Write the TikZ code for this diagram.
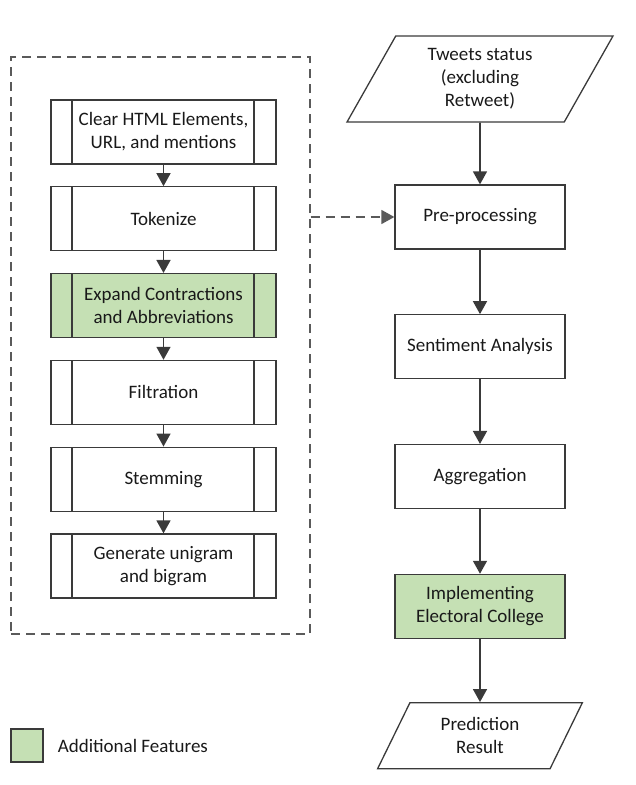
\documentclass[tikz,border=0pt]{standalone}
\usepackage{fontspec}
\setmainfont{Carlito}
\usetikzlibrary{positioning,shapes.geometric,arrows.meta}
\definecolor{addgreen}{HTML}{C5E0B4}
\definecolor{boxline}{HTML}{3A3A3A}
\definecolor{grpline}{HTML}{5A5A5A}
\tikzset{
	base/.style={draw=boxline, line width=1.3pt, align=center, text=black!90,
		font=\fontsize{19}{23}\selectfont, inner sep=2pt},
	proc/.style={base, minimum width=170pt, minimum height=64pt},
	subproc/.style={base, minimum width=225pt, minimum height=64pt,
		path picture={\draw[boxline, line width=1.3pt]
			([xshift=21pt]path picture bounding box.north west) -- ([xshift=21pt]path picture bounding box.south west)
			([xshift=-22pt]path picture bounding box.north east) -- ([xshift=-22pt]path picture bounding box.south east);}},
	io/.style={base, trapezium, trapezium left angle=63.5, trapezium right angle=116.5,
		trapezium stretches=true, inner sep=0pt},
	addfeat/.style={fill=addgreen},
	grp/.style={draw=grpline, line width=1.2pt, dash pattern=on 9pt off 6pt, inner sep=0pt},
	flow/.style={draw=boxline, line width=1.6pt, -{Triangle[width=14pt,length=13pt]}},
}

\begin{document}
\begin{tikzpicture}[x=1pt, y=-1pt, node distance=21.5pt]
	\useasboundingbox (0,0) rectangle (635,785);
	% pre-processing steps
	\node[grp, minimum width=299pt, minimum height=577pt] (prepgroup) at (160.5,345.5) {};
	\node[subproc] (clear) at (163.5,132) {Clear HTML Elements,\\URL, and mentions};
	\node[subproc, below=of clear] (token) {Tokenize};
	\node[subproc, addfeat, below=of token] (expand) {Expand Contractions\\and Abbreviations};
	\node[subproc, below=of expand] (filter) {Filtration};
	\node[subproc, below=of filter] (stem) {Stemming};
	\node[subproc, below=of stem] (ngram) {Generate unigram\\and bigram};
	%
	\node[io, minimum width=266pt, minimum height=86pt] (tweets) at (480,79) {Tweets status\\(excluding\\Retweet)};
	\node[proc] (pre) at (480,217) {Pre-processing};
	\node[proc, below=64.5pt of pre] (senti) {Sentiment Analysis};
	\node[proc, below=64.5pt of senti] (aggr) {Aggregation};
	\node[proc, addfeat, below=64.5pt of aggr] (elect) {Implementing\\Electoral College};
	\node[io, minimum width=205pt, minimum height=66pt, below=63pt of elect] (result) {Prediction\\Result};
	%
	\node[draw=boxline, line width=1.3pt, addfeat, minimum width=32pt, minimum height=33pt, inner sep=0pt] (legend) at (27,745.5) {};
	\node[right=14pt of legend, font=\fontsize{19}{23}\selectfont, text=black!90, inner sep=0pt] (legendtxt) {Additional Features};
	%
	\draw[flow] (clear) -- (token);
	\draw[flow] (token) -- (expand);
	\draw[flow] (expand) -- (filter);
	\draw[flow] (filter) -- (stem);
	\draw[flow] (stem) -- (ngram);
	\draw[flow] (tweets) -- (pre);
	\draw[flow] (pre) -- (senti);
	\draw[flow] (senti) -- (aggr);
	\draw[flow] (aggr) -- (elect);
	\draw[flow] (elect) -- (result);
	\draw[flow, draw=grpline, dash pattern=on 9pt off 6pt] (prepgroup.east |- pre.west) -- (pre.west);
\end{tikzpicture}
\end{document}
